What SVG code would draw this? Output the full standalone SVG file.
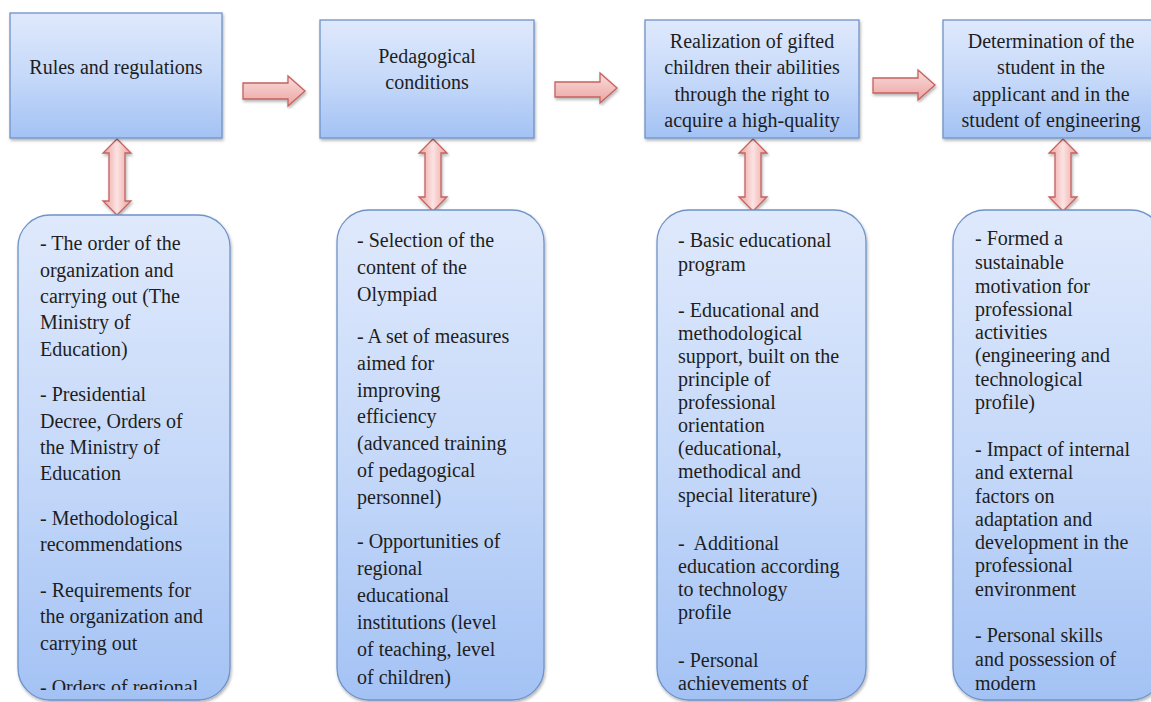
<svg xmlns="http://www.w3.org/2000/svg" width="1151" height="702" viewBox="0 0 1151 702">
<defs>
<linearGradient id="gBlue" x1="0" y1="0" x2="0" y2="1">
<stop offset="0" stop-color="#dfe9fc"/>
<stop offset="0.5" stop-color="#c6d9f9"/>
<stop offset="1" stop-color="#a3c2f4"/>
</linearGradient>
<linearGradient id="gPinkH" x1="0" y1="0" x2="0" y2="1">
<stop offset="0" stop-color="#f9dcdb"/>
<stop offset="1" stop-color="#eba5a3"/>
</linearGradient>
<linearGradient id="gPinkV" x1="0" y1="0" x2="1" y2="0">
<stop offset="0" stop-color="#ec9f9d"/>
<stop offset="0.5" stop-color="#fbe3e2"/>
<stop offset="1" stop-color="#ec9f9d"/>
</linearGradient>
<filter id="sh" x="-10%" y="-10%" width="120%" height="120%">
<feDropShadow dx="1" dy="2" stdDeviation="1.5" flood-color="#000" flood-opacity="0.3"/>
</filter>
<clipPath id="c1"><rect x="18" y="215" width="212" height="475"/></clipPath>
</defs>
<style>
.box{fill:url(#gBlue);stroke:#6f93c8;stroke-width:1.3;filter:url(#sh)}
.harr{fill:url(#gPinkH);stroke:#c4625f;stroke-width:1.3;filter:url(#sh)}
.varr{fill:url(#gPinkV);stroke:#c4625f;stroke-width:1.3;filter:url(#sh)}
.c{text-anchor:middle}
</style>

<g id="connectors">
<polygon class="harr" points="243,83 288,83 288,76 305,91 288,106 288,99 243,99"/>
<polygon class="harr" points="555,82 600,82 600,73 617,88 600,103 600,97 555,97"/>
<polygon class="harr" points="873,78 918,78 918,70 935,85 918,100 918,93 873,93"/>
<polygon class="varr" points="117,139 131,153 125,153 125,201 131,201 117,215 103,201 109,201 109,153 103,153"/>
<polygon class="varr" points="433,139 447,153 441,153 441,197 447,197 433,211 419,197 425,197 425,153 419,153"/>
<polygon class="varr" points="753,139 767,153 761,153 761,197 767,197 753,211 739,197 745,197 745,153 739,153"/>
<polygon class="varr" points="1063,139 1077,153 1071,153 1071,197 1077,197 1063,211 1049,197 1055,197 1055,153 1049,153"/>
</g>

<g id="top1" font-family="Liberation Serif, serif" font-size="20" fill="#1e1e1e">
<rect class="box" x="10" y="13" width="212" height="125"/>
<text class="c" x="116" y="74">Rules and regulations</text>
</g>
<g id="top2" font-family="Liberation Serif, serif" font-size="20" fill="#1e1e1e">
<rect class="box" x="320" y="20" width="214" height="118"/>
<text class="c" x="427" y="63">Pedagogical</text>
<text class="c" x="427" y="89">conditions</text>
</g>
<g id="top3" font-family="Liberation Serif, serif" font-size="20" fill="#1e1e1e">
<rect class="box" x="645" y="20" width="214" height="118"/>
<text class="c" x="752" y="48">Realization of gifted</text>
<text class="c" x="752" y="74">children their abilities</text>
<text class="c" x="752" y="101">through the right to</text>
<text class="c" x="752" y="127">acquire a high-quality</text>
</g>
<g id="top4" font-family="Liberation Serif, serif" font-size="20" fill="#1e1e1e">
<rect class="box" x="943" y="20" width="212" height="118"/>
<text class="c" x="1051" y="48">Determination of the</text>
<text class="c" x="1051" y="74">student in the</text>
<text class="c" x="1051" y="101">applicant and in the</text>
<text class="c" x="1051" y="127">student of engineering</text>
</g>

<g id="bottom1" font-family="Liberation Serif, serif" font-size="20" fill="#1e1e1e">
<rect class="box" x="18" y="215" width="212" height="485" rx="32"/>
<g clip-path="url(#c1)">
<text x="40" y="250">- The order of the</text>
<text x="40" y="277">organization and</text>
<text x="40" y="303">carrying out (The</text>
<text x="40" y="329">Ministry of</text>
<text x="40" y="356">Education)</text>
<text x="40" y="401">- Presidential</text>
<text x="40" y="428">Decree, Orders of</text>
<text x="40" y="454">the Ministry of</text>
<text x="40" y="480">Education</text>
<text x="40" y="525">- Methodological</text>
<text x="40" y="551">recommendations</text>
<text x="40" y="597">- Requirements for</text>
<text x="40" y="623">the organization and</text>
<text x="40" y="650">carrying out</text>
<text x="40" y="694">- Orders of regional</text>
</g>
</g>
<g id="bottom2" font-family="Liberation Serif, serif" font-size="20" fill="#1e1e1e">
<rect class="box" x="337" y="210" width="207" height="490" rx="32"/>
<text x="357" y="247">- Selection of the</text>
<text x="357" y="274">content of the</text>
<text x="357" y="301">Olympiad</text>
<text x="357" y="343">- A set of measures</text>
<text x="357" y="370">aimed for</text>
<text x="357" y="397">improving</text>
<text x="357" y="423">efficiency</text>
<text x="357" y="450">(advanced training</text>
<text x="357" y="477">of pedagogical</text>
<text x="357" y="504">personnel)</text>
<text x="357" y="548">- Opportunities of</text>
<text x="357" y="575">regional</text>
<text x="357" y="602">educational</text>
<text x="357" y="629">institutions (level</text>
<text x="357" y="656">of teaching, level</text>
<text x="357" y="684">of children)</text>
</g>
<g id="bottom3" font-family="Liberation Serif, serif" font-size="20" fill="#1e1e1e">
<rect class="box" x="657" y="210" width="209" height="490" rx="32"/>
<text x="678" y="247">- Basic educational</text>
<text x="678" y="271">program</text>
<text x="678" y="317">- Educational and</text>
<text x="678" y="340">methodological</text>
<text x="678" y="363">support, built on the</text>
<text x="678" y="386">principle of</text>
<text x="678" y="409">professional</text>
<text x="678" y="432">orientation</text>
<text x="678" y="455">(educational,</text>
<text x="678" y="478">methodical and</text>
<text x="678" y="502">special literature)</text>
<text x="678" y="550" xml:space="preserve">-  Additional</text>
<text x="678" y="573">education according</text>
<text x="678" y="596">to technology</text>
<text x="678" y="619">profile</text>
<text x="678" y="667">- Personal</text>
<text x="678" y="690">achievements of</text>
</g>
<g id="bottom4" font-family="Liberation Serif, serif" font-size="20" fill="#1e1e1e">
<rect class="box" x="953" y="210" width="210" height="490" rx="32"/>
<text x="975" y="245">- Formed a</text>
<text x="975" y="269">sustainable</text>
<text x="975" y="293">motivation for</text>
<text x="975" y="316">professional</text>
<text x="975" y="339">activities</text>
<text x="975" y="362">(engineering and</text>
<text x="975" y="386">technological</text>
<text x="975" y="409">profile)</text>
<text x="975" y="456">- Impact of internal</text>
<text x="975" y="479">and external</text>
<text x="975" y="503">factors on</text>
<text x="975" y="526">adaptation and</text>
<text x="975" y="549">development in the</text>
<text x="975" y="572">professional</text>
<text x="975" y="596">environment</text>
<text x="975" y="642">- Personal skills</text>
<text x="975" y="666">and possession of</text>
<text x="975" y="690">modern</text>
</g>
</svg>
